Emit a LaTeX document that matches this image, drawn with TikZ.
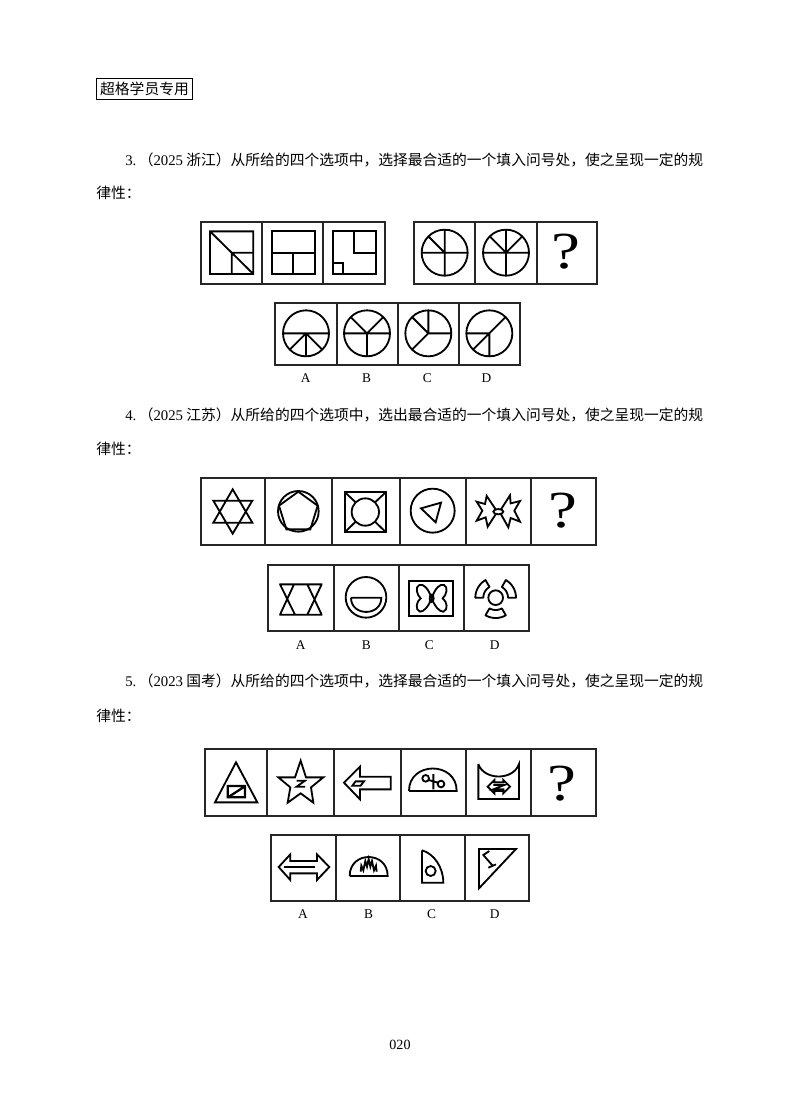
\documentclass[tikz,border=0pt]{standalone}
\usepackage{fontspec}
\setmainfont{Liberation Serif}
\newfontfamily\cjk{Noto Sans CJK SC}
\newcommand{\lat}[1]{{\rmfamily #1}}
\newcommand{\askmark}{\scalebox{1.25}[1]{?}}
\tikzset{
  crop/.style 2 args={shift={(#1,#2)}, x=.008333cm, y=-.008333cm},
  cell/.style={line width=1.35pt, black!85},
  fig/.style={line width=1.3pt, line join=miter, black},
  heavy/.style={line width=1.6pt, black},
  line/.style={anchor=west, inner sep=0pt, font=\cjk\fontsize{10.5}{12}\selectfont},
  optlabel/.style={inner sep=0pt, font=\fontsize{9.5}{11}\selectfont},
  qmark/.style={inner sep=0pt, font=\fontsize{37}{37}\selectfont},
}
% one row of cells: list of x values, then top and bottom
\newcommand{\cellrow}[3]{
  \foreach \xa/\xb in {#1} {\draw[cell] (\xa,#2) rectangle (\xb,#3);}
}
\begin{document}
\begin{tikzpicture}[x=.025cm, y=-.025cm]
  \useasboundingbox (0,0) rectangle (800,1114);

  \node[line, draw, anchor=center, minimum width=2.375cm, minimum height=.525cm, line width=.7pt] (badge) at (144.5,88.5) {超格学员专用};

  \node[line] (q3a) at (125,160) {\lat{3.}\,（\lat{2025} 浙江）从所给的四个选项中，选择最合适的一个填入问号处，使之呈现一定的规};
  \node[line] (q3b) at (96,193) {律性：};
  \node[line] (q4a) at (125,415) {\lat{4.}\,（\lat{2025} 江苏）从所给的四个选项中，选出最合适的一个填入问号处，使之呈现一定的规};
  \node[line] (q4b) at (96,449) {律性：};
  \node[line] (q5a) at (125,681) {\lat{5.}\,（\lat{2023} 国考）从所给的四个选项中，选择最合适的一个填入问号处，使之呈现一定的规};
  \node[line] (q5b) at (96,716) {律性：};
  \node[inner sep=0pt, font=\fontsize{10}{12}\selectfont] (page) at (400,1045) {020};

  % question 3
  \begin{scope}[crop={190}{210}]
    \cellrow{33/217,217/400,400/585,672/856,856/1040,1040/1222}{35}{222}
    \cellrow{256/440,440/623,623/807,807/990}{278}{465}

    \draw[fig] (60,64) rectangle (190,192) (60,64) -- (190,192)
      (125,128) -- (125,192) (125,128) -- (190,128);
    \draw[fig] (245,64) rectangle (374,192) (245,128) -- (374,128) (309,128) -- (309,192);
    \draw[fig] (428,64) rectangle (557,192) (492,64) -- (492,128) -- (557,128)
      (428,160) -- (459,160) -- (459,192);

    \draw[fig] (764,128) circle[radius=69] (695,128) -- (833,128) (764,59) -- (764,197) (764,128) -- (715,79);
    \draw[fig] (948,128) circle[radius=69] (879,128) -- (1017,128) (948,128) -- (948,197)
      (948,128) -- (899,79) (948,128) -- (948,59) (948,128) -- (997,79);
    \node[qmark] (ask3) at (1127,125) {\askmark};

    \draw[fig] (348,370) circle[radius=69] (279,370) -- (417,370) (348,370) -- (348,439)
      (348,370) -- (299,419) (348,370) -- (397,419);
    \draw[fig] (531,370) circle[radius=69] (462,370) -- (600,370) (531,370) -- (531,439)
      (531,370) -- (482,321) (531,370) -- (580,321);
    \draw[fig] (715,370) circle[radius=69] (715,370) -- (715,301) (715,370) -- (784,370)
      (715,370) -- (666,321) (715,370) -- (666,419);
    \draw[fig] (898,370) circle[radius=69] (829,370) -- (898,370) (898,370) -- (898,439)
      (849,419) -- (947,321);

    \node[optlabel] (a3) at (347,503) {A};
    \node[optlabel] (b3) at (530,503) {B};
    \node[optlabel] (c3) at (712,503) {C};
    \node[optlabel] (d3) at (889,503) {D};
  \end{scope}

  % question 4
  \begin{scope}[crop={190}{470}]
    \cellrow{34/224,224/425,425/629,629/828,828/1023,1023/1218}{24}{224}
    \cellrow{235/432,432/627,627/821,821/1018}{284}{484}

    \draw[fig] (128,58) -- (187,158) -- (70,158) -- cycle (128,191) -- (187,92) -- (70,92) -- cycle;
    \draw[fig] (325,124) circle[radius=61];
    \draw[fig] (325,65) -- (383,107) -- (361,178) -- (289,178) -- (267,107) -- cycle;
    \draw[heavy] (464,66) rectangle (588,187);
    \draw[fig] (526,126) circle[radius=41] (464,66) -- (497,97) (588,66) -- (555,97)
      (464,187) -- (497,155) (588,187) -- (555,155);
    \draw[fig] (728,122) circle[radius=66] (693,115) -- (753,98) -- (737,157) -- cycle;
    \node[qmark] (ask4) at (1120,122) {\askmark};

    \draw[fig] (268,343) -- (397,343) (268,434) -- (397,434)
      (270,343) -- (315,434) (312,343) -- (270,434) (352,343) -- (395,434) (395,343) -- (352,434);
    \draw[fig] (528,382) circle[radius=61] (483,383) -- (574,383)
      .. controls (574,440) and (483,440) .. (483,383);

    \node[optlabel] (a4) at (332,524) {A};
    \node[optlabel] (b4) at (529,524) {B};
    \node[optlabel] (c4) at (718,524) {C};
    \node[optlabel] (d4) at (914,524) {D};
  \end{scope}

  \begin{scope}[crop={465}{480}]
    \draw[fig] (100,95) ellipse[x radius=15, y radius=8];
    \draw[fig] (92,88) -- (65,48) -- (60,72) -- (35,65) -- (52,92) -- (35,122) -- (62,112) -- (68,140) -- (92,103);
    \draw[fig] (108,88) -- (135,46) -- (137,70) -- (165,63) -- (148,92) -- (165,125) -- (137,114) -- (130,142) -- (108,103);
  \end{scope}

  \begin{scope}[crop={400}{565}]
    \draw[heavy] (27,48) rectangle (160,152);
    \draw[fig] (95,100) ellipse[x radius=6, y radius=11];
    \draw[fig] (95,100) .. controls (85,70) and (70,55) .. (58,60)
      .. controls (45,65) and (50,90) .. (62,100)
      .. controls (48,110) and (45,135) .. (60,140)
      .. controls (72,140) and (85,125) .. (95,100);
    \draw[fig] (95,100) .. controls (105,70) and (120,55) .. (132,60)
      .. controls (145,65) and (140,90) .. (128,100)
      .. controls (142,110) and (145,135) .. (130,140)
      .. controls (118,140) and (105,125) .. (95,100);
    \draw[fig] (287,98) circle[radius=22];
    \foreach \a in {90,210,330} {
      \draw[fig, line join=round] plot[domain=\a-30:\a+30, samples=12] ({287+61*cos(\x)},{98+61*sin(\x)})
        -- plot[domain=\a+30:\a-30, samples=12] ({287+37*cos(\x)},{98+37*sin(\x)}) -- cycle;
    }
  \end{scope}

  % question 5
  \begin{scope}[crop={190}{740}]
    \cellrow{45/232,232/433,433/632,632/829,829/1022,1022/1217}{28}{228}
    \cellrow{244/437,437/631,631/824,824/1018}{284}{484}
    \node[qmark] (ask5) at (1115,130) {\askmark};
    \node[optlabel] (a5) at (339,521) {A};
    \node[optlabel] (b5) at (536,521) {B};
    \node[optlabel] (c5) at (725,521) {C};
    \node[optlabel] (d5) at (914,521) {D};
  \end{scope}

  \begin{scope}[crop={205}{750}]
    \draw[fig] (93,37) -- (157,157) -- (30,157) -- cycle;
    \draw[heavy] (68,108) rectangle (120,142) (72,140) -- (118,110);
    \draw[fig] (287,32) -- (303,82) -- (355,82) -- (318,112) -- (325,158) -- (287,130)
      -- (248,158) -- (256,112) -- (220,82) -- (270,82) -- cycle;
    \draw[fig] (275,92) -- (300,92) -- (275,110) -- (300,110);
  \end{scope}

  \begin{scope}[crop={335}{750}]
    \draw[fig] (27,98) -- (75,50) -- (75,80) -- (167,80) -- (167,118) -- (75,118) -- (75,148) -- cycle;
    \draw[fig] (52,107) -- (62,94) -- (87,94) -- (77,107) -- cycle;
    \draw[fig] (222,123) -- (365,123) .. controls (365,33) and (222,33) .. (222,123);
    \draw[fig] (272,85) circle[radius=10] (318,102) circle[radius=10] (295,72) -- (295,118) (281,90) -- (309,98);
  \end{scope}

  \begin{scope}[crop={465}{750}]
    \draw[fig] (40,42) -- (40,147) -- (162,147) -- (162,42) .. controls (145,92) and (57,92) .. (40,42);
    \draw[fig] (68,110) -- (88,90) -- (88,97) -- (115,97) -- (115,90) -- (135,110) -- (115,130)
      -- (115,123) -- (88,123) -- (88,130) -- cycle;
    \draw[fig] (85,105) -- (118,105) -- (85,118) -- (118,118);
  \end{scope}

  \begin{scope}[crop={272}{835}]
    \draw[fig] (20,96) -- (55,58) -- (55,78) -- (135,78) -- (135,58) -- (172,96) -- (135,135)
      -- (135,115) -- (55,115) -- (55,135) -- cycle;
    \draw[fig] (35,96) -- (128,96);
    \draw[fig] (233,123) -- (347,123) .. controls (347,47) and (233,47) .. (233,123);
    \draw[fig] (266,110) -- (268,92) -- (274,106) -- (280,78) -- (285,95) -- (290,72) -- (295,95)
      -- (300,78) -- (306,106) -- (312,92) -- (314,110);
  \end{scope}

  \begin{scope}[crop={400}{835}]
    \draw[fig] (66,46) -- (66,143) -- (130,143) .. controls (130,95) and (100,55) .. (66,46);
    \draw[fig] (92,108) circle[radius=15];
    \draw[fig] (237,42) -- (348,42) -- (237,160) -- cycle;
    \draw[fig] (268,48) -- (250,60) -- (278,92) (265,98) -- (288,88);
  \end{scope}
\end{tikzpicture}
\end{document}
